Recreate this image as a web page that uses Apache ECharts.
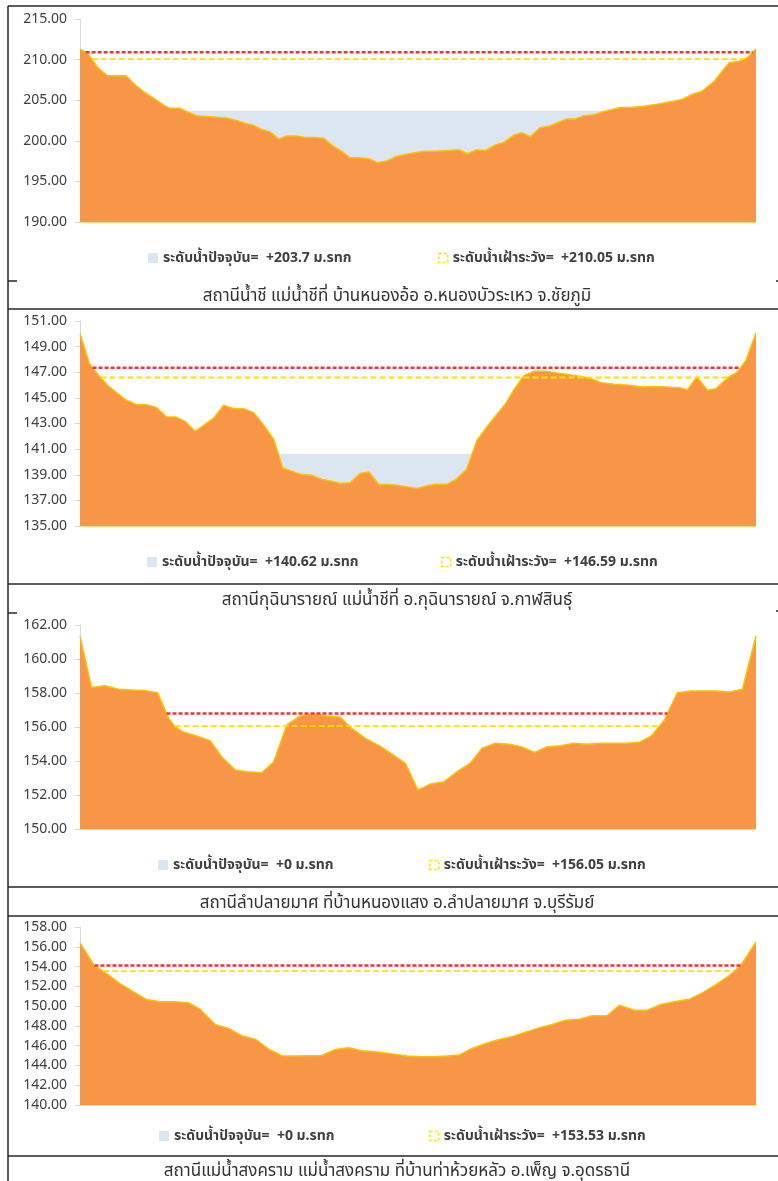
<!DOCTYPE html>
<html>
<head>
<meta charset="utf-8">
<script src="https://cdn.jsdelivr.net/npm/echarts@6/dist/echarts.min.js"></script>
<style>
  html, body { margin: 0; padding: 0; background: #ffffff; }
  #main { width: 778px; height: 1181px; }
</style>
</head>
<body>
<div id="main"></div>
<script>
// ---- Station 1: Chi river at Ban Nong O ----
const title1 = 'สถานีน้ำชี แม่น้ำชีที่ บ้านหนองอ้อ อ.หนองบัวระเหว จ.ชัยภูมิ';
const dist1 = [0, 1.5, 3.7, 5.5, 7.3, 9.2, 11.0, 12.7, 14.7, 16.7,
  18.0, 20.0, 21.7, 23.3, 25.3, 27.3, 29.3, 31.3, 33.3, 34.7,
  36.3, 38.0, 39.7, 41.3, 43.3, 45.0, 47.0, 48.7, 50.7, 52.3,
  54.0, 55.7, 57.7, 59.5, 61.3, 63.3, 65.7, 68.7, 71.3, 73.3,
  75.7, 77.5, 79.3, 81.0, 83.0, 84.7, 86.7, 88.3, 90.0, 91.9,
  93.7, 95.3, 97.3, 99.0, 100.7, 102.7, 104.7, 106.0, 108.0, 110.0,
  113.0, 115.3, 118.0, 120.3, 122.3, 124.3, 126.7, 129.7, 131.7, 133.3, 135.1];
const elev1 = [211.27, 210.78, 208.93, 208.0, 208.0, 208.0, 206.9, 206.07, 205.25, 204.4,
  204.0, 204.0, 203.5, 203.1, 203.0, 202.9, 202.8, 202.5, 202.1, 201.9,
  201.4, 201.1, 200.2, 200.6, 200.6, 200.4, 200.4, 200.3, 199.3, 198.7,
  197.9, 197.9, 197.8, 197.3, 197.5, 198.1, 198.4, 198.7, 198.7, 198.8,
  198.9, 198.4, 198.9, 198.8, 199.5, 199.8, 200.7, 201.0, 200.5, 201.6,
  201.8, 202.2, 202.7, 202.7, 203.1, 203.2, 203.6, 203.8, 204.1, 204.1,
  204.3, 204.5, 204.8, 205.1, 205.7, 206.1, 207.3, 209.6, 209.8, 210.2, 211.3];
const yTicks1 = [190, 195, 200, 205, 210, 215];
const water1 = 203.7;
const watch1 = 210.05;
const alarm1 = 210.9;

// ---- Station 2: Kuchinarai ----
const title2 = 'สถานีกุฉินารายณ์ แม่น้ำชีที่ อ.กุฉินารายณ์ จ.กาฬสินธุ์';
const dist2 = [0, 1.9, 3.7, 5.5, 7.3, 9.3, 11.3, 13.3, 15.3, 17.3,
  19.1, 21.0, 23.0, 24.7, 26.7, 28.7, 30.7, 32.7, 34.7, 36.7,
  38.7, 40.5, 42.3, 44.3, 46.3, 48.3, 50.3, 52.0, 53.9, 55.9,
  57.7, 59.7, 61.7, 63.3, 67.3, 69.7, 71.3, 73.3, 75.3, 77.2,
  79.3, 82.0, 85.0, 86.7, 88.7, 90.7, 93.0, 96.3, 99.7, 101.7,
  104.0, 106.7, 109.7, 112.3, 114.7, 117.0, 119.7, 121.3, 123.2, 125.3,
  127.0, 129.3, 131.3, 133.0, 135.0];
const elev2 = [150.0, 147.67, 146.76, 145.98, 145.41, 144.81, 144.47, 144.47, 144.24, 143.51,
  143.51, 143.17, 142.39, 142.86, 143.43, 144.42, 144.16, 144.16, 143.85, 142.86,
  141.76, 139.53, 139.27, 139.01, 138.96, 138.64, 138.49, 138.31, 138.38, 139.09,
  139.22, 138.23, 138.23, 138.18, 137.92, 138.18, 138.25, 138.25, 138.70, 139.42,
  141.69, 143.12, 144.55, 145.67, 146.76, 147.07, 147.07, 146.89, 146.68, 146.55,
  146.19, 146.06, 145.98, 145.85, 145.88, 145.85, 145.80, 145.64, 146.63, 145.59,
  145.72, 146.55, 147.02, 147.93, 150.06];
const yTicks2 = [135, 137, 139, 141, 143, 145, 147, 149, 151];
const water2 = 140.62;
const watch2 = 146.59;
const alarm2 = 147.36;

// ---- Station 3: Lam Plai Mat ----
const title3 = 'สถานีลำปลายมาศ ที่บ้านหนองแสง อ.ลำปลายมาศ จ.บุรีรัมย์';
const dist3 = [0, 2.3, 5.0, 7.7, 10.3, 13.0, 15.5, 17.7, 19.0, 20.7,
  23.3, 26.0, 28.3, 31.0, 33.3, 36.3, 38.7, 41.3, 44.0, 46.7,
  49.3, 52.0, 54.0, 57.0, 60.0, 62.3, 65.0, 67.5, 70.0, 72.7,
  75.3, 77.9, 80.3, 83.0, 85.7, 88.1, 90.8, 93.3, 96.0, 98.5,
  101.3, 104.0, 106.7, 109.3, 111.7, 114.1, 116.7, 119.3, 122.0, 124.7,
  127.3, 129.7, 132.3, 135.0];
const elev3 = [161.35, 158.33, 158.43, 158.22, 158.18, 158.14, 158.02, 156.51, 156.02, 155.69,
  155.47, 155.20, 154.25, 153.47, 153.37, 153.31, 153.96, 156.12, 156.65, 156.80,
  156.65, 156.57, 155.98, 155.33, 154.86, 154.40, 153.86, 152.29, 152.65, 152.78,
  153.37, 153.86, 154.75, 155.04, 154.98, 154.84, 154.51, 154.84, 154.90, 155.04,
  154.98, 155.04, 155.04, 155.04, 155.10, 155.47, 156.41, 158.02, 158.12, 158.12,
  158.12, 158.06, 158.22, 161.35];
const yTicks3 = [150, 152, 154, 156, 158, 160, 162];
const water3 = 0;
const watch3 = 156.05;
const alarm3 = 156.8;

// ---- Station 4: Songkhram river at Ban Tha Huai Lua ----
const title4 = 'สถานีแม่น้ำสงคราม แม่น้ำสงคราม ที่บ้านท่าห้วยหลัว อ.เพ็ญ จ.อุดรธานี';
const dist4 = [0, 2.8, 5.3, 8.0, 10.7, 13.3, 16.0, 18.7, 21.7, 24.0,
  27.0, 29.7, 32.3, 35.0, 37.7, 40.3, 43.0, 45.7, 48.3, 51.0,
  53.7, 56.3, 59.0, 61.7, 65.3, 68.0, 70.7, 73.3, 75.7, 78.3,
  81.0, 83.7, 86.3, 88.7, 91.7, 94.3, 97.0, 99.7, 102.3, 105.2,
  107.7, 110.7, 113.3, 116.0, 118.7, 121.7, 124.3, 127.0, 129.7, 132.0, 135.0];
const elev4 = [156.38, 154.13, 153.29, 152.28, 151.44, 150.66, 150.43, 150.43, 150.33, 149.69,
  148.14, 147.74, 147.0, 146.66, 145.65, 144.98, 144.95, 144.98, 145.01, 145.62,
  145.79, 145.48, 145.38, 145.21, 144.95, 144.88, 144.88, 144.95, 145.05, 145.72,
  146.22, 146.63, 146.90, 147.30, 147.80, 148.14, 148.58, 148.68, 149.02, 149.02,
  150.09, 149.59, 149.59, 150.16, 150.43, 150.70, 151.34, 152.18, 153.12, 154.13, 156.49];
const yTicks4 = [140, 142, 144, 146, 148, 150, 152, 154, 156, 158];
const water4 = 0;
const watch4 = 153.53;
const alarm4 = 154.1;

const waterLabel = 'ระดับน้ำปัจจุบัน';
const watchLabel = 'ระดับน้ำเฝ้าระวัง';
const unitLabel = 'ม.รทก';

const stations = [
  { title: title1, dist: dist1, elev: elev1, ticks: yTicks1, water: water1, watch: watch1, alarm: alarm1 },
  { title: title2, dist: dist2, elev: elev2, ticks: yTicks2, water: water2, watch: watch2, alarm: alarm2 },
  { title: title3, dist: dist3, elev: elev3, ticks: yTicks3, water: water3, watch: watch3, alarm: alarm3 },
  { title: title4, dist: dist4, elev: elev4, ticks: yTicks4, water: water4, watch: watch4, alarm: alarm4 }
];

// page layout of each panel (pixels)
const layout = [
  { top: 19,  height: 203, legendY: 258,  waterX: 148, watchX: 438, titleY: 296 },
  { top: 321, height: 205, legendY: 562,  waterX: 147, watchX: 441, titleY: 600 },
  { top: 625, height: 204, legendY: 865,  waterX: 158, watchX: 429, titleY: 903 },
  { top: 927, height: 178, legendY: 1136, waterX: 159, watchX: 429, titleY: 1171 }
];

const FONT = '"Noto Sans", "Noto Sans Thai", "DejaVu Sans", sans-serif';
const GROUND = '#F79646';
const GROUND_EDGE = '#FFC000';
const WATER = '#DCE6F2';
const WATCH = '#FFE000';
const ALARM = '#F0343C';
const LEGEND_PAD = 5;

// outermost span where the bank profile drops below a level
function levelSpan(dist, elev, level) {
  const n = elev.length;
  let i = 0;
  while (i < n && elev[i] >= level) i++;
  if (i === n) return null;
  let j = n - 1;
  while (j >= 0 && elev[j] >= level) j--;
  const cross = (a, b) => dist[a] + (elev[a] - level) / (elev[a] - elev[b]) * (dist[b] - dist[a]);
  const x0 = i === 0 ? dist[0] : cross(i - 1, i);
  const x1 = j === n - 1 ? dist[n - 1] : cross(j + 1, j);
  return [x0, x1];
}
function levelLine(st, level) {
  const s = levelSpan(st.dist, st.elev, level);
  return s ? [[s[0], level], [s[1], level]] : [];
}

const grid = [], xAxis = [], yAxis = [], series = [], legend = [], graphic = [];

stations.forEach((st, k) => {
  const L = layout[k];
  const waterName = waterLabel + '=  +' + st.water + ' ' + unitLabel;
  const watchName = watchLabel + '=  +' + st.watch + ' ' + unitLabel;

  grid.push({ left: 80, top: L.top, width: 676, height: L.height });
  xAxis.push({
    type: 'value', gridIndex: k, min: 0, max: st.dist[st.dist.length - 1],
    axisLine: { show: true, onZero: false, lineStyle: { color: '#FFD54A', width: 1.5 } },
    axisTick: { show: false }, axisLabel: { show: false }, splitLine: { show: false }
  });
  yAxis.push({
    type: 'value', gridIndex: k,
    min: st.ticks[0], max: st.ticks[st.ticks.length - 1],
    axisLine: { show: true, lineStyle: { color: '#D9D9D9', width: 1 } },
    axisTick: { show: true, length: 5, customValues: st.ticks, lineStyle: { color: '#D9D9D9' } },
    axisLabel: {
      customValues: st.ticks, margin: 13,
      formatter: v => v.toFixed(2),
      color: '#404040', fontSize: 14, fontFamily: FONT
    },
    splitLine: { show: false }
  });

  series.push({
    name: waterName, type: 'line', xAxisIndex: k, yAxisIndex: k,
    data: levelLine(st, st.water), symbol: 'none', z: 1,
    itemStyle: { color: WATER },
    lineStyle: { width: 0, color: WATER },
    areaStyle: { color: WATER, opacity: 1, origin: 'start' },
    silent: true, animation: false
  });
  series.push({
    name: 'ground' + k, type: 'line', xAxisIndex: k, yAxisIndex: k,
    data: st.dist.map((d, i) => [d, st.elev[i]]), symbol: 'none', z: 2,
    lineStyle: { color: GROUND_EDGE, width: 1.5 },
    areaStyle: { color: GROUND, opacity: 1, origin: 'start' },
    silent: true, animation: false
  });
  series.push({
    name: 'alarm' + k, type: 'line', xAxisIndex: k, yAxisIndex: k,
    data: levelLine(st, st.alarm), symbol: 'none', z: 4,
    lineStyle: { color: ALARM, width: 2.5, type: [4, 2] },
    silent: true, animation: false
  });
  series.push({
    name: watchName, type: 'line', xAxisIndex: k, yAxisIndex: k,
    data: levelLine(st, st.watch), symbol: 'none', z: 3,
    itemStyle: { color: WATCH },
    lineStyle: { color: WATCH, width: 1.8, type: [6, 3] },
    silent: true, animation: false
  });

  const legendText = { color: '#404040', fontSize: 14, fontWeight: 'bold', fontFamily: FONT, lineHeight: 16 };
  legend.push({
    left: L.waterX - LEGEND_PAD, top: L.legendY - 8 - LEGEND_PAD, itemWidth: 10, itemHeight: 10, itemGap: 6,
    selectedMode: false, textStyle: legendText,
    data: [{ name: waterName, icon: 'rect', itemStyle: { color: WATER, borderWidth: 0 } }]
  });
  legend.push({
    left: L.watchX - LEGEND_PAD, top: L.legendY - 8 - LEGEND_PAD, itemWidth: 9, itemHeight: 9, itemGap: 6,
    selectedMode: false, textStyle: legendText,
    data: [{ name: watchName, icon: 'rect',
      itemStyle: { color: 'rgba(0,0,0,0)', borderColor: WATCH, borderWidth: 1.5, borderType: [3, 2] } }]
  });

  graphic.push({
    type: 'text', x: 397, y: L.titleY, silent: true,
    style: { text: st.title, fill: '#333333', font: '17px ' + FONT, align: 'center', verticalAlign: 'middle' }
  });
});

// table rules framing the panels
const rules = [
  [8, 6, 778, 6], [8, 6, 8, 1181],
  [8, 281, 17, 281], [776, 281, 778, 281],
  [8, 309, 778, 309], [8, 584, 778, 584],
  [8, 613, 17, 613], [776, 611, 778, 611],
  [8, 887, 778, 887], [8, 916, 778, 916], [8, 1156, 778, 1156]
];
rules.forEach(r => graphic.push({
  type: 'line', silent: true, z: 100,
  shape: { x1: r[0], y1: r[1], x2: r[2], y2: r[3] },
  style: { stroke: '#262626', lineWidth: 1.5 }
}));

const chart = echarts.init(document.getElementById('main'), null, { renderer: 'canvas' });
chart.setOption({
  backgroundColor: '#ffffff',
  animation: false,
  grid, xAxis, yAxis, series, legend, graphic
});
</script>
</body>
</html>
